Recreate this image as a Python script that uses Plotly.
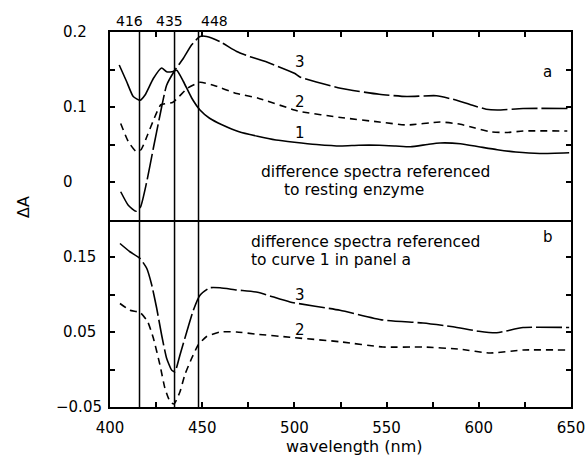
import plotly.graph_objects as go

# ---------------- data ----------------
# panel a (difference spectra referenced to resting enzyme)
wl_a1 = [405, 409, 412.6, 416.3, 419, 423.5, 428, 430.7, 433.5, 436.2, 439.8, 444.3, 448.8, 454, 461, 470,
         480, 490, 500, 512, 525, 535, 546, 555, 563, 572, 579, 590, 600, 610, 620, 633, 649]
a1 = [0.156, 0.134, 0.114, 0.109, 0.116, 0.138, 0.152, 0.147, 0.147, 0.149, 0.134, 0.112, 0.096, 0.085, 0.076,
      0.067, 0.061, 0.056, 0.053, 0.050, 0.048, 0.049, 0.049, 0.048, 0.047, 0.050, 0.052, 0.051, 0.047, 0.043,
      0.040, 0.038, 0.039]

wl_a2 = [405.8, 409.9, 414.1, 416.8, 420.4, 424, 427.6, 433.9, 437.5, 442, 448.8, 456, 468.7, 480, 500, 503,
         525, 546, 561, 579, 590, 598, 606, 615, 624, 648]
a2 = [0.078, 0.054, 0.041, 0.043, 0.063, 0.085, 0.103, 0.106, 0.114, 0.125, 0.133, 0.129, 0.118, 0.112, 0.096,
      0.094, 0.086, 0.080, 0.076, 0.080, 0.077, 0.072, 0.067, 0.066, 0.068, 0.068]

wl_a3 = [405.8, 409.9, 414.1, 416.6, 419.9, 423.5, 427.1, 430.7, 435.2, 439.8, 444.3, 448.8, 452.4, 459.7, 468.7,
         476, 480, 485, 500, 503, 525, 546, 561, 577, 588, 597, 604, 610, 624, 649]
a3 = [-0.013, -0.031, -0.039, -0.033, 0.0, 0.045, 0.089, 0.129, 0.149, 0.165, 0.183, 0.194, 0.194, 0.187, 0.174,
      0.167, 0.164, 0.160, 0.145, 0.140, 0.125, 0.117, 0.114, 0.115, 0.109, 0.102, 0.097, 0.096, 0.098, 0.098]

# panel b (difference spectra referenced to curve 1 in panel a)
wl_b2 = [405.4, 410.8, 416.3, 420.4, 423.5, 427.1, 429.8, 432.6, 434.7, 437.9, 440.6, 444.3, 447.9, 452.4, 459.7,
         468.7, 480, 497.6, 524.7, 548, 569.7, 590, 606, 624, 648]
b2 = [0.088, 0.079, 0.076, 0.064, 0.042, 0.006, -0.025, -0.043, -0.046, -0.030, -0.007, 0.015, 0.033, 0.044, 0.050,
      0.050, 0.047, 0.043, 0.037, 0.030, 0.030, 0.027, 0.022, 0.026, 0.026]

wl_b3 = [405.4, 410.8, 416.3, 419.9, 422.6, 425.3, 428, 430.7, 433.5, 435.2, 437.9, 441.6, 445.2, 448.8, 454.2,
         459.7, 468.7, 480, 497.6, 524.7, 548, 569.7, 586, 600, 609.7, 624, 649]
b3 = [0.168, 0.157, 0.148, 0.135, 0.113, 0.082, 0.046, 0.015, -0.001, -0.003, 0.019, 0.050, 0.079, 0.099, 0.109,
      0.109, 0.106, 0.103, 0.090, 0.079, 0.066, 0.062, 0.057, 0.051, 0.049, 0.056, 0.056]

marker_wl = [416, 435, 448]
marker_labels = ["416", "435", "448"]

x_ticks = [400, 425, 450, 475, 500, 525, 550, 575, 600, 625, 650]
x_ticktext = ["400", "", "450", "", "500", "", "550", "", "600", "", "650"]
y_ticks = [-0.05, 0.0, 0.05, 0.1, 0.15, 0.2]
ya_labels_vals = [0.2, 0.1, 0.0]
ya_labels_text = ["0.2", "0.1", "0"]
yb_labels_vals = [0.15, 0.05, -0.05]
yb_labels_text = ["0.15", "0.05", "\u22120.05"]

curve_label_x = 503
curve_labels_a = {"3": 0.160, "2": 0.107, "1": 0.065}
curve_labels_b = {"3": 0.099, "2": 0.053}

FONT = "DejaVu Sans"
BLK = "black"

fig = go.Figure()

def add(x, y, dash, xa, ya):
    fig.add_trace(go.Scatter(x=x, y=y, mode="lines", xaxis=xa, yaxis=ya,
                             line=dict(color=BLK, width=1.6, dash=dash, shape="spline", smoothing=0.5),
                             hoverinfo="skip", showlegend=False))

add(wl_a1, a1, "solid", "x2", "y2")
add(wl_a2, a2, "7px,5px", "x2", "y2")
add(wl_a3, a3, "26px,4px", "x2", "y2")
add(wl_b2, b2, "7px,5px", "x", "y")
add(wl_b3, b3, "26px,4px", "x", "y")

axis_common = dict(showgrid=False, zeroline=False, showline=True, linecolor=BLK, linewidth=2,
                   ticks="inside", tickcolor=BLK, ticklen=5, tickwidth=1.5, automargin=False)

fig.update_layout(
    width=587, height=459,
    margin=dict(l=110, r=16, t=32, b=52),
    paper_bgcolor="white", plot_bgcolor="white",
    font=dict(family=FONT, size=15, color=BLK),
    xaxis=dict(range=[400, 650], domain=[0, 1], anchor="y", tickvals=x_ticks, ticktext=x_ticktext,
               mirror=False, tickfont=dict(size=15), ticklabelstandoff=6, **axis_common),
    xaxis2=dict(range=[400, 650], domain=[0, 1], anchor="y2", side="top", matches="x",
                tickvals=x_ticks, showticklabels=False, mirror=True, **axis_common),
    yaxis=dict(range=[-0.05, 0.2], domain=[0, 0.5], anchor="x", tickvals=y_ticks,
               showticklabels=False, mirror="ticks", **axis_common),
    yaxis2=dict(range=[-0.05, 0.2], domain=[0.5, 1], anchor="x2", tickvals=y_ticks,
                showticklabels=False, mirror="ticks", **axis_common),
)

# vertical marker lines across both panels
for w in marker_wl:
    fig.add_shape(type="line", xref="x", yref="paper", x0=w, x1=w, y0=0, y1=1,
                  line=dict(color=BLK, width=1.5))

label_shift = [-10, -5.5, 15.5]
for w, t, s in zip(marker_wl, marker_labels, label_shift):
    fig.add_annotation(x=w, y=1.0298, xref="x", yref="paper", text=t, showarrow=False,
                       xshift=s, xanchor="center", yanchor="middle", font=dict(size=14))

# y tick labels (left aligned as in the original)
for v, t in zip(ya_labels_vals, ya_labels_text):
    fig.add_annotation(x=-0.1063, y=v, xref="paper", yref="y2", text=t, showarrow=False,
                       xanchor="left", yanchor="middle", font=dict(size=15))
for v, t in zip(yb_labels_vals, yb_labels_text):
    xx = -0.1063 if not t.startswith("\u2212") else -0.1215
    fig.add_annotation(x=xx, y=v, xref="paper", yref="y", text=t, showarrow=False,
                       xanchor="left", yanchor="middle", font=dict(size=15))

# curve labels
for t, v in curve_labels_a.items():
    fig.add_annotation(x=curve_label_x, y=v, xref="x2", yref="y2", text=t, showarrow=False,
                       xanchor="center", yanchor="middle", font=dict(size=15))
for t, v in curve_labels_b.items():
    fig.add_annotation(x=curve_label_x, y=v, xref="x", yref="y", text=t, showarrow=False,
                       xanchor="center", yanchor="middle", font=dict(size=15))

# panel letters
fig.add_annotation(x=637, y=0.147, xref="x2", yref="y2", text="a", showarrow=False,
                   xanchor="center", yanchor="middle", font=dict(size=15))
fig.add_annotation(x=637.5, y=0.177, xref="x", yref="y", text="b", showarrow=False,
                   xanchor="center", yanchor="middle", font=dict(size=15))

# descriptive texts
TXT = 15.5
fig.add_annotation(x=480.8, y=0.0129, xref="x2", yref="y2", text="difference spectra referenced",
                   showarrow=False, xanchor="left", yanchor="middle", font=dict(size=TXT))
fig.add_annotation(x=493.3, y=-0.0111, xref="x2", yref="y2", text="to resting enzyme",
                   showarrow=False, xanchor="left", yanchor="middle", font=dict(size=TXT))
fig.add_annotation(x=475.4, y=0.1696, xref="x", yref="y", text="difference spectra referenced",
                   showarrow=False, xanchor="left", yanchor="middle", font=dict(size=TXT))
fig.add_annotation(x=475.4, y=0.1456, xref="x", yref="y", text="to curve 1 in panel a",
                   showarrow=False, xanchor="left", yanchor="middle", font=dict(size=TXT))

# axis titles
fig.add_annotation(x=-0.189, y=0.533, xref="paper", yref="paper", text="\u0394A", textangle=-90,
                   showarrow=False, xanchor="center", yanchor="middle", font=dict(size=16))
fig.add_annotation(x=0.531, y=-0.1053, xref="paper", yref="paper", text="wavelength (nm)",
                   showarrow=False, xanchor="center", yanchor="middle", font=dict(size=16))

fig.write_html("out.html")
